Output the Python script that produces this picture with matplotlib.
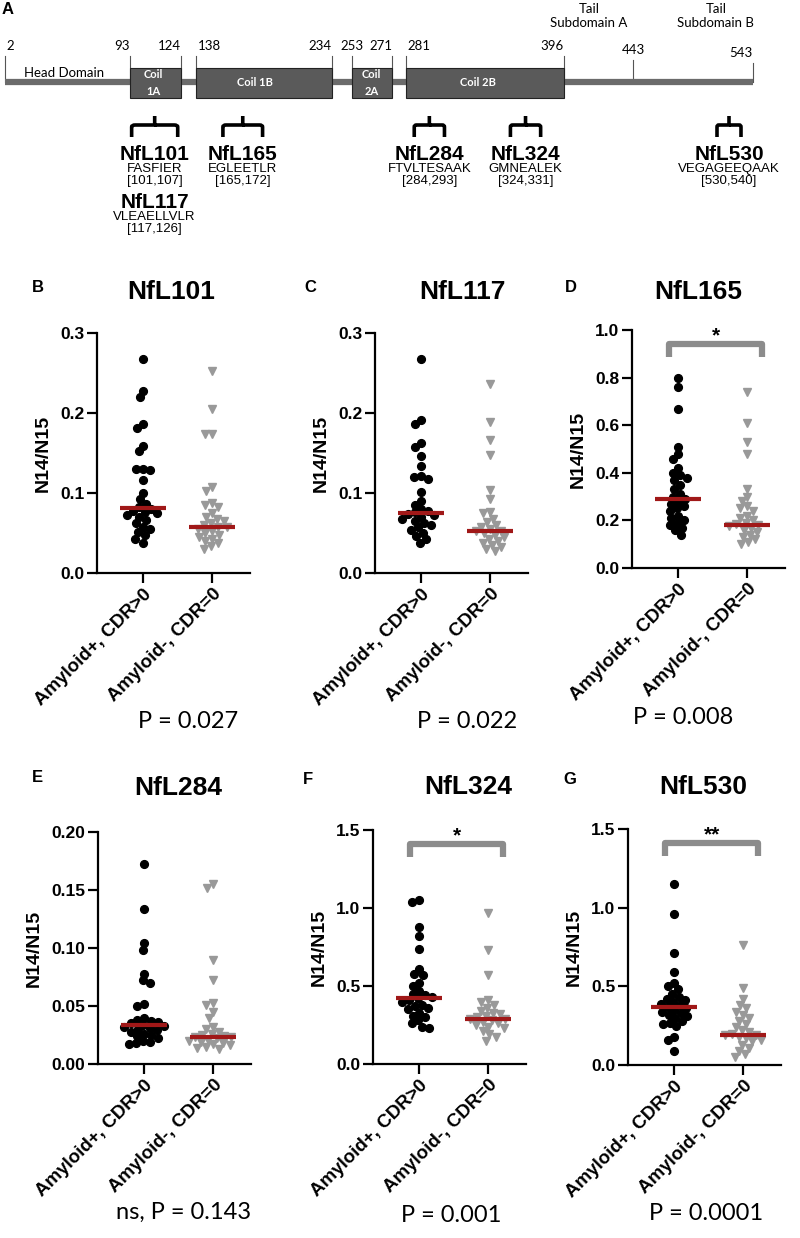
import numpy as np
import matplotlib.pyplot as plt
from matplotlib.path import Path
from matplotlib.patches import PathPatch, Rectangle

# ---------------- data ----------------
groups = ['Amyloid+, CDR>0', 'Amyloid-, CDR=0']

# panel A: neurofilament light domain map (residue numbers)
protein_start, protein_end = 2, 543
coil_labels = ['Coil\n1A', 'Coil 1B', 'Coil\n2A', 'Coil 2B']
coil_start = [93, 138, 253, 281]
coil_end = [124, 234, 271, 396]
tail_boundary = 443
peptide_names = ['NfL101', 'NfL165', 'NfL284', 'NfL324', 'NfL530']
peptide_seqs = ['FASFIER', 'EGLEETLR', 'FTVLTESAAK', 'GMNEALEK', 'VEGAGEEQAAK']
peptide_ranges = ['[101,107]', '[165,172]', '[284,293]', '[324,331]', '[530,540]']
extra_name, extra_seq, extra_range = 'NfL117', 'VLEAELLVLR', '[117,126]'

# panels B-G: N14/N15 ratios
nfl101_pos = [0.268, 0.228, 0.220, 0.186, 0.181, 0.159, 0.152, 0.130, 0.130, 0.129,
              0.116, 0.100, 0.092, 0.086, 0.082, 0.080, 0.078, 0.076, 0.075, 0.073,
              0.070, 0.066, 0.062, 0.058, 0.055, 0.051, 0.047, 0.043, 0.038]
nfl101_neg = [0.252, 0.205, 0.174, 0.174, 0.107, 0.103, 0.088, 0.085, 0.083, 0.075,
              0.070, 0.068, 0.065, 0.062, 0.060, 0.058, 0.057, 0.055, 0.052, 0.050,
              0.048, 0.045, 0.043, 0.040, 0.037, 0.034, 0.030]
nfl117_pos = [0.267, 0.191, 0.186, 0.162, 0.157, 0.146, 0.134, 0.121, 0.120, 0.118,
              0.101, 0.090, 0.085, 0.080, 0.078, 0.076, 0.074, 0.072, 0.070, 0.068,
              0.065, 0.062, 0.060, 0.057, 0.054, 0.050, 0.046, 0.042, 0.037]
nfl117_neg = [0.236, 0.189, 0.166, 0.148, 0.104, 0.093, 0.076, 0.075, 0.068, 0.064,
              0.060, 0.058, 0.055, 0.053, 0.052, 0.050, 0.048, 0.045, 0.043, 0.040,
              0.038, 0.035, 0.032, 0.030, 0.027]
nfl165_pos = [0.80, 0.76, 0.67, 0.51, 0.48, 0.46, 0.42, 0.40, 0.39, 0.38, 0.37, 0.35,
              0.33, 0.31, 0.30, 0.29, 0.28, 0.27, 0.26, 0.25, 0.24, 0.22, 0.21, 0.20,
              0.19, 0.18, 0.17, 0.16, 0.14]
nfl165_neg = [0.74, 0.61, 0.53, 0.48, 0.33, 0.30, 0.28, 0.26, 0.25, 0.24, 0.22, 0.21,
              0.20, 0.19, 0.185, 0.18, 0.175, 0.17, 0.16, 0.15, 0.14, 0.13, 0.12, 0.11,
              0.10]
nfl284_pos = [0.172, 0.134, 0.104, 0.098, 0.078, 0.072, 0.070, 0.052, 0.050, 0.040,
              0.038, 0.037, 0.036, 0.035, 0.034, 0.033, 0.032, 0.031, 0.030, 0.029,
              0.028, 0.026, 0.025, 0.024, 0.022, 0.020, 0.019, 0.018, 0.017]
nfl284_neg = [0.155, 0.152, 0.090, 0.072, 0.053, 0.051, 0.045, 0.040, 0.032, 0.030,
              0.028, 0.026, 0.025, 0.024, 0.023, 0.023, 0.022, 0.021, 0.020, 0.019,
              0.018, 0.017, 0.016, 0.015, 0.014, 0.013]
nfl324_pos = [1.05, 1.04, 0.88, 0.82, 0.74, 0.61, 0.58, 0.57, 0.52, 0.50, 0.47, 0.45,
              0.44, 0.43, 0.42, 0.41, 0.40, 0.38, 0.37, 0.36, 0.35, 0.33, 0.31, 0.30,
              0.28, 0.26, 0.24, 0.23]
nfl324_neg = [0.97, 0.73, 0.57, 0.41, 0.40, 0.38, 0.36, 0.34, 0.33, 0.32, 0.31, 0.30,
              0.29, 0.29, 0.28, 0.27, 0.26, 0.25, 0.24, 0.23, 0.21, 0.19, 0.17, 0.15]
nfl530_pos = [1.15, 0.96, 0.71, 0.59, 0.52, 0.50, 0.48, 0.45, 0.43, 0.42, 0.41, 0.40,
              0.39, 0.38, 0.37, 0.36, 0.35, 0.34, 0.33, 0.32, 0.31, 0.30, 0.28, 0.27,
              0.26, 0.25, 0.18, 0.16, 0.09]
nfl530_neg = [0.76, 0.49, 0.42, 0.38, 0.36, 0.34, 0.32, 0.30, 0.28, 0.26, 0.24, 0.22,
              0.21, 0.20, 0.19, 0.19, 0.18, 0.17, 0.16, 0.15, 0.13, 0.11, 0.09, 0.07,
              0.05]

medians_pos = [0.081, 0.075, 0.29, 0.034, 0.42, 0.37]
medians_neg = [0.058, 0.053, 0.18, 0.023, 0.29, 0.19]
panel_letters = ['B', 'C', 'D', 'E', 'F', 'G']
panel_titles = ['NfL101', 'NfL117', 'NfL165', 'NfL284', 'NfL324', 'NfL530']
y_max = [0.3, 0.3, 1.0, 0.20, 1.5, 1.5]
y_step = [0.1, 0.1, 0.2, 0.05, 0.5, 0.5]
y_fmt = ['{:.1f}', '{:.1f}', '{:.1f}', '{:.2f}', '{:.1f}', '{:.1f}']
sig_marks = [None, None, '*', None, '*', '**']
p_labels = ['P = 0.027', 'P = 0.022', 'P = 0.008', 'ns, P = 0.143', 'P = 0.001', 'P = 0.0001']
pos_data = [nfl101_pos, nfl117_pos, nfl165_pos, nfl284_pos, nfl324_pos, nfl530_pos]
neg_data = [nfl101_neg, nfl117_neg, nfl165_neg, nfl284_neg, nfl324_neg, nfl530_neg]

# ---------------- layout (pixels) ----------------
W, H = 800, 1238
fig = plt.figure(figsize=(W / 100, H / 100), dpi=100)
BOLD = ['Liberation Sans', 'DejaVu Sans']
NARROW = ['Liberation Sans Narrow', 'Liberation Sans', 'DejaVu Sans']
PFONT = ['Lato', 'DejaVu Sans']

def px_axes(left, top, right, bottom):
    return fig.add_axes([left / W, 1 - bottom / H, (right - left) / W, (bottom - top) / H])

# ---------- panel A ----------
axA = px_axes(0, 0, W, 265)
axA.axis('off')
# piecewise scale so the schematic matches the drawing (not to scale)
res_anchor = [-2, 2, 93, 124, 138, 234, 253, 271, 281, 396, 443, 543, 575]
px_anchor = [0, 5, 130, 181, 196, 332, 352, 392, 406, 564, 633, 753, 800]
axA.set_xscale('function', functions=(lambda r: np.interp(r, res_anchor, px_anchor),
                                       lambda p: np.interp(p, px_anchor, res_anchor)))
axA.set_xlim(-2, 575)
axA.set_ylim(265, 0)

axA.text(-1, 9, 'A', fontsize=12, fontweight='bold', family=BOLD, va='center')
axA.plot([protein_start, protein_end], [82, 82], color='#6b6b6b', lw=4.5,
         solid_capstyle='butt', zorder=1)
for name, s, e in zip(coil_labels, coil_start, coil_end):
    axA.add_patch(Rectangle((s, 68), e - s, 30, facecolor='#5a5a5a',
                            edgecolor='#222222', lw=0.8, zorder=2))
    axA.text(np.sqrt(s * e), 83, name, color='white', fontsize=8, fontweight='bold',
             family=PFONT, ha='center', va='center', zorder=3, linespacing=1.6)

num_pos = [protein_start, 93, 124, 138, 234, 253, 271, 281, 396, tail_boundary, protein_end]
num_ha = ['left', 'right', 'right', 'left', 'right', 'center', 'right', 'left', 'right',
          'center', 'right']
num_y = [52, 52, 52, 52, 52, 52, 52, 52, 52, 56, 59]
for r, ha, y in zip(num_pos, num_ha, num_y):
    axA.plot([r, r], [y + 4, 82], color='#555555', lw=0.8, zorder=0)
    axA.text(r + (1 if ha == 'left' else 0), y, str(r), fontsize=9.5, family=PFONT,
             ha=ha, va='bottom')
axA.text(45, 73, 'Head Domain', fontsize=9.5, family=PFONT, ha='center', va='center')
axA.text(413, 16, 'Tail\nSubdomain A', fontsize=9.5, family=PFONT, ha='center',
         va='center', linespacing=1.2)
axA.text(512, 16, 'Tail\nSubdomain B', fontsize=9.5, family=PFONT, ha='center',
         va='center', linespacing=1.2)

brace_pos = [108, 171, 298, 368, 523]
brace_half = [14, 14, 11, 11, 10]

def brace(ax, xc, hw):
    x0, x1 = xc - hw, xc + hw
    verts = [(x0, 137), (x0, 127), (x0, 125), (x0 + hw * 0.15, 125), (xc, 125), (xc, 116),
             (xc, 125), (x1 - hw * 0.15, 125), (x1, 125), (x1, 127), (x1, 137)]
    codes = [Path.MOVETO, Path.LINETO, Path.CURVE3, Path.CURVE3, Path.LINETO, Path.LINETO,
             Path.MOVETO, Path.LINETO, Path.CURVE3, Path.CURVE3, Path.LINETO]
    ax.add_patch(PathPatch(Path(verts, codes), fill=False, lw=2.6, color='black',
                           capstyle='butt'))

for xc, hw, name, seq, rng in zip(brace_pos, brace_half, peptide_names, peptide_seqs,
                                  peptide_ranges):
    brace(axA, xc, hw)
    axA.text(xc, 155, name, fontsize=15, fontweight='bold', family=NARROW, ha='center',
             va='center')
    axA.text(xc, 169, seq, fontsize=9.5, family=NARROW, ha='center', va='center')
    axA.text(xc, 181, rng, fontsize=9.5, family=NARROW, ha='center', va='center')
axA.text(brace_pos[0], 203, extra_name, fontsize=15, fontweight='bold', family=NARROW,
         ha='center', va='center')
axA.text(brace_pos[0], 217, extra_seq, fontsize=9.5, family=NARROW, ha='center',
         va='center')
axA.text(brace_pos[0], 229, extra_range, fontsize=9.5, family=NARROW, ha='center',
         va='center')

# ---------- panels B-G ----------
px_per_cat = 69
xlo, xhi = -0.67, 1.55
axes_px = [(97, 333, 573), (375, 333, 573), (632, 330, 568),
           (98, 832, 1064), (373, 830, 1064), (628, 829, 1065)]
title_xy = [(171, 292), (462, 292), (698, 292), (178, 788), (468, 787), (703, 787)]
letter_xy = [(38, 287), (310, 287), (571, 287), (37, 778), (308, 780), (570, 780)]
p_xy = [(188, 722), (467, 722), (683, 717), (184, 1212), (451, 1215), (706, 1213)]


def swarm(vals, px_per_y, diam=7.0):
    vals = np.asarray(vals)
    cands = sorted(np.arange(-45, 45.5, 0.5), key=lambda c: (abs(c), c))
    placed = []
    offs = np.zeros(len(vals))
    for i in np.argsort(vals)[::-1]:
        y = vals[i] * px_per_y
        for c in cands:
            if all((c - px) ** 2 + (y - py) ** 2 >= diam ** 2 for px, py in placed):
                break
        offs[i] = c
        placed.append((c, y))
    return offs / px_per_cat


for k in range(6):
    left, top, bottom = axes_px[k]
    right = left + (xhi - xlo) * px_per_cat
    ax = px_axes(left, top, right, bottom)
    ymax = y_max[k]
    ax.set_xlim(xlo, xhi)
    ax.set_ylim(0, ymax)
    ppy = (bottom - top) / ymax

    for g, (vals, marker, col, ms) in enumerate([(pos_data[k], 'o', 'black', 5.6),
                                                  (neg_data[k], 'v', '#999999', 6.0)]):
        xs = g + swarm(vals, ppy)
        ax.plot(xs, vals, ls='none', marker=marker, ms=ms, color=col, mec=col,
                clip_on=False, zorder=3)
    for g, med in enumerate([medians_pos[k], medians_neg[k]]):
        ax.plot([g - 0.33, g + 0.33], [med, med], color='#a01818', lw=3, zorder=4,
                solid_capstyle='butt')

    if sig_marks[k]:
        y_top = ymax * 0.94
        y_leg = ymax * 0.885
        ax.plot([-0.13, -0.13, 1.22, 1.22], [y_leg, y_top, y_top, y_leg], color='#8c8c8c',
                lw=4.5, solid_joinstyle='round', solid_capstyle='butt', clip_on=False)
        ax.text(0.545, ymax * 0.975, sig_marks[k], fontsize=15, fontweight='bold',
                family=BOLD, ha='center', va='center')

    ticks = np.arange(0, ymax + 1e-9, y_step[k])
    ax.set_yticks(ticks)
    ax.set_yticklabels([y_fmt[k].format(t) for t in ticks], fontsize=12.5,
                       fontweight='bold', family=BOLD)
    ax.set_xticks([0, 1])
    ax.set_xticklabels(groups, rotation=45, ha='right', rotation_mode='anchor',
                       fontsize=13.5, fontweight='bold', family=BOLD)
    ax.set_ylabel('N14/N15', fontsize=14, fontweight='bold', family=BOLD, labelpad=6)
    for s in ['top', 'right']:
        ax.spines[s].set_visible(False)
    for s in ['left', 'bottom']:
        ax.spines[s].set_linewidth(1.6)
    ax.tick_params(direction='out', length=7, width=1.6, pad=2)

    tx, ty = title_xy[k]
    fig.text(tx / W, 1 - ty / H, panel_titles[k], fontsize=19, fontweight='bold',
             family=BOLD, ha='center', va='center')
    lx, ly = letter_xy[k]
    fig.text(lx / W, 1 - ly / H, panel_letters[k], fontsize=12, fontweight='bold',
             family=BOLD, ha='center', va='center')
    px_, py_ = p_xy[k]
    fig.text(px_ / W, 1 - py_ / H, p_labels[k], fontsize=17, family=PFONT,
             ha='center', va='center')

fig.savefig('out.png', dpi=100)
